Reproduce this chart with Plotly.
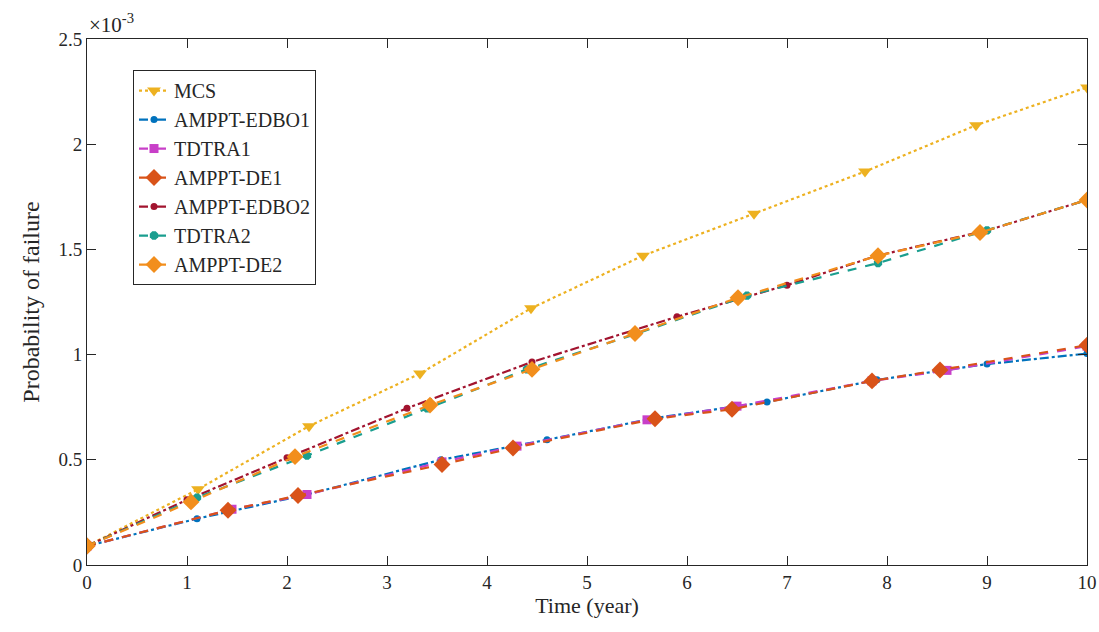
import plotly.graph_objects as go

# Probability of failure values, in units of 1e-3
time_mcs = [0, 1.11, 2.22, 3.33, 4.44, 5.56, 6.67, 7.78, 8.89, 10]
pf_mcs = [0.09, 0.36, 0.66, 0.91, 1.22, 1.47, 1.67, 1.87, 2.09, 2.27]

time_edbo1 = [0, 1.1, 2.2, 3.54, 4.6, 5.7, 6.8, 7.9, 9.0, 10]
pf_edbo1 = [0.09, 0.22, 0.335, 0.50, 0.595, 0.70, 0.775, 0.88, 0.955, 1.005]

time_tdtra1 = [0, 1.45, 2.2, 3.55, 4.3, 5.6, 6.5, 7.85, 8.6, 10]
pf_tdtra1 = [0.09, 0.265, 0.335, 0.49, 0.565, 0.69, 0.755, 0.875, 0.925, 1.04]

time_de1 = [0, 1.41, 2.11, 3.55, 4.26, 5.68, 6.45, 7.85, 8.53, 10]
pf_de1 = [0.09, 0.26, 0.33, 0.478, 0.556, 0.695, 0.74, 0.875, 0.927, 1.045]

time_edbo2 = [0, 1.0, 2.0, 3.2, 4.45, 5.9, 7.0, 7.9, 9.0, 10]
pf_edbo2 = [0.09, 0.31, 0.51, 0.745, 0.965, 1.18, 1.33, 1.47, 1.59, 1.735]

time_tdtra2 = [0, 1.1, 2.2, 3.4, 4.4, 5.5, 6.6, 7.91, 9.0, 10]
pf_tdtra2 = [0.09, 0.32, 0.52, 0.745, 0.93, 1.10, 1.28, 1.435, 1.59, 1.735]

time_de2 = [0, 1.04, 2.08, 3.43, 4.45, 5.48, 6.51, 7.91, 8.93, 10]
pf_de2 = [0.09, 0.30, 0.515, 0.76, 0.93, 1.10, 1.27, 1.47, 1.58, 1.735]

x_ticks = [0, 1, 2, 3, 4, 5, 6, 7, 8, 9, 10]
y_ticks = [0, 0.5, 1, 1.5, 2, 2.5]
y_ticklabels = ["0", "0.5", "1", "1.5", "2", "2.5"]

series = [
    ("MCS", time_mcs, pf_mcs, "#EDB120", "dot", "triangle-down", 12),
    ("AMPPT-EDBO1", time_edbo1, pf_edbo1, "#0072BD", "dashdot", "circle", 7),
    ("TDTRA1", time_tdtra1, pf_tdtra1, "#C83FC8", "dash", "square", 9),
    ("AMPPT-DE1", time_de1, pf_de1, "#D95319", "dash", "diamond", 13),
    ("AMPPT-EDBO2", time_edbo2, pf_edbo2, "#A2142F", "dashdot", "circle", 7),
    ("TDTRA2", time_tdtra2, pf_tdtra2, "#1A9E8F", "dash", "octagon", 9),
    ("AMPPT-DE2", time_de2, pf_de2, "#F28E1C", "dash", "diamond", 13),
]

fig = go.Figure()
for name, xs, ys, color, dash, symbol, msize in series:
    fig.add_trace(go.Scatter(
        x=xs, y=ys, name=name, mode="lines+markers",
        line=dict(color=color, dash=dash, width=2.2),
        marker=dict(symbol=symbol, size=msize, color=color, line=dict(width=0)),
    ))

font = "Liberation Serif, Times New Roman, serif"
fig.update_layout(
    width=1099, height=632,
    margin=dict(l=87, r=12, t=39, b=67),
    paper_bgcolor="white", plot_bgcolor="white",
    font=dict(family=font, size=19, color="#262626"),
    showlegend=True,
    legend=dict(
        x=0.046, y=0.941, xanchor="left", yanchor="top",
        bgcolor="white", bordercolor="#262626", borderwidth=1,
        font=dict(family=font, size=20, color="#262626"),
        entrywidth=185,
    ),
    xaxis=dict(
        range=[0, 10], tickvals=x_ticks, ticks="inside", ticklen=9,
        tickcolor="#262626", showline=True, linecolor="#262626", linewidth=1,
        mirror="ticks", showgrid=False, zeroline=False, automargin=False,
        title=dict(text="Time (year)", standoff=2, font=dict(size=22)),
    ),
    yaxis=dict(
        range=[0, 2.5], tickvals=y_ticks, ticktext=y_ticklabels,
        ticks="inside", ticklen=9,
        tickcolor="#262626", showline=True, linecolor="#262626", linewidth=1,
        mirror="ticks", showgrid=False, zeroline=False, automargin=False,
        title=dict(text="Probability of failure", standoff=12, font=dict(size=24)),
    ),
    annotations=[dict(
        text="×10<sup>-3</sup>", x=0, y=1, xref="paper", yref="paper",
        xanchor="left", yanchor="bottom", showarrow=False,
        font=dict(family=font, size=21, color="#262626"), yshift=0,
    )],
)

fig.write_html("out.html")
